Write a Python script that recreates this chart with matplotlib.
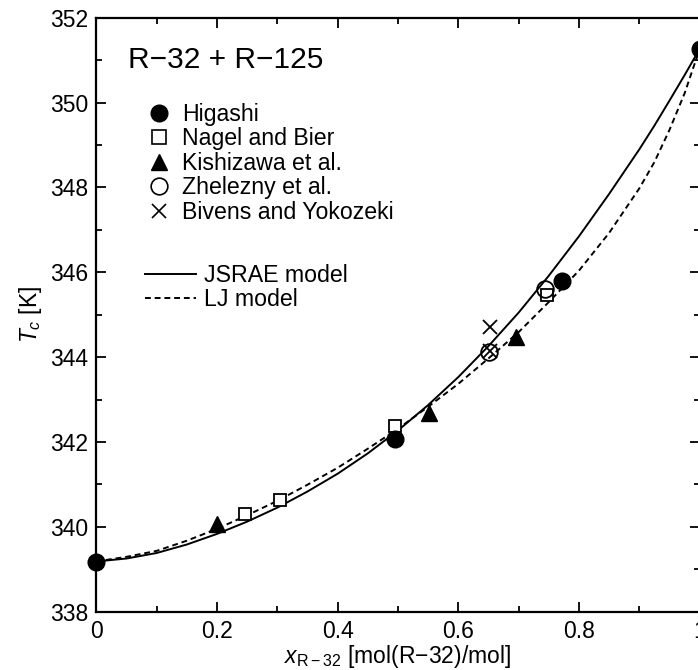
import matplotlib
matplotlib.use("Agg")
import matplotlib.pyplot as plt
from matplotlib.ticker import MultipleLocator
from matplotlib.lines import Line2D

plt.rcParams['font.family'] = ['Liberation Sans', 'DejaVu Sans']
plt.rcParams['mathtext.fontset'] = 'custom'
plt.rcParams['mathtext.rm'] = 'Liberation Sans'
plt.rcParams['mathtext.it'] = 'Liberation Sans:italic'

# 实验数据
higashi_x = [0.0, 0.495, 0.771, 1.0]
higashi_t = [339.17, 342.08, 345.80, 351.27]
nagel_x = [0.247, 0.304, 0.495, 0.747]
nagel_t = [340.29, 340.62, 342.38, 345.46]
kishi_x = [0.200, 0.552, 0.695]
kishi_t = [340.06, 342.67, 344.48]
zhel_x = [0.651, 0.743]
zhel_t = [344.12, 345.60]
bivens_x = [0.653, 0.653]
bivens_t = [344.70, 344.15]

# 模型曲线
model_x = [0.00, 0.05, 0.10, 0.15, 0.20, 0.25, 0.30, 0.35, 0.40, 0.45, 0.50,
           0.55, 0.60, 0.65, 0.70, 0.75, 0.80, 0.85, 0.90, 0.925, 0.95, 0.975, 1.00]
jsrae_t = [339.18, 339.25, 339.38, 339.58, 339.83, 340.12, 340.45, 340.83, 341.25, 341.73, 342.27,
           342.87, 343.53, 344.26, 345.05, 345.92, 346.85, 347.85, 348.90, 349.46, 350.05, 350.65, 351.27]
lj_t = [339.18, 339.29, 339.43, 339.67, 339.95, 340.27, 340.61, 340.99, 341.39, 341.84, 342.31,
        342.83, 343.37, 343.97, 344.59, 345.30, 346.04, 346.93, 347.98, 348.60, 349.36, 350.22, 351.27]

fig = plt.figure(figsize=(6.98, 6.70), dpi=100)
ax = fig.add_axes([0.138, 0.0873, 0.8644, 0.886])

ax.plot(model_x, jsrae_t, color='black', lw=1.4, label='JSRAE model')
ax.plot(model_x, lj_t, color='black', lw=1.4, ls=(0, (3, 2)), label='LJ model')

ax.plot(nagel_x, nagel_t, ls='none', marker='s', ms=9, mfc='white', mec='black', mew=1.3)
ax.plot(zhel_x, zhel_t, ls='none', marker='o', ms=12, mfc='none', mec='black', mew=1.3)
ax.plot(bivens_x, bivens_t, ls='none', marker='x', ms=10, mec='black', mew=1.3)
ax.plot(kishi_x, kishi_t, ls='none', marker='^', ms=11.5, color='black')
ax.plot(higashi_x, higashi_t, ls='none', marker='o', ms=12, color='black', clip_on=False, zorder=5)

ax.set_xlim(0, 1)
ax.set_ylim(338, 352)
ax.xaxis.set_minor_locator(MultipleLocator(0.1))
ax.yaxis.set_major_locator(MultipleLocator(2))
ax.yaxis.set_minor_locator(MultipleLocator(1))
ax.set_xticks([0, 0.2, 0.4, 0.6, 0.8, 1.0])
ax.set_xticklabels(['0', '0.2', '0.4', '0.6', '0.8', '1'])
ax.tick_params(which='both', direction='in', top=True, right=True, labelsize=16.5, width=1.3)
ax.tick_params(which='major', length=7, pad=6)
ax.tick_params(which='minor', length=4)
for s in ax.spines.values():
    s.set_linewidth(1.6)

ax.set_xlabel(r'$x_{\mathrm{R-32}}$ [mol(R$-$32)/mol]', fontsize=16.5, labelpad=0)
ax.set_ylabel(r'$T_c$ [K]', fontsize=16.5, labelpad=4)

ax.text(0.0525, 0.9156, 'R\u221232 + R\u2212125', transform=ax.transAxes,
        fontsize=21.5, va='baseline', ha='left')

h1 = [
    Line2D([], [], ls='none', marker='o', ms=12, color='black'),
    Line2D([], [], ls='none', marker='s', ms=10, mfc='white', mec='black', mew=1.2),
    Line2D([], [], ls='none', marker='^', ms=12, color='black'),
    Line2D([], [], ls='none', marker='o', ms=12, mfc='none', mec='black', mew=1.2),
    Line2D([], [], ls='none', marker='x', ms=9.5, mec='black', mew=1.2),
]
l1 = ['Higashi', 'Nagel and Bier', 'Kishizawa et al.', 'Zhelezny et al.', 'Bivens and Yokozeki']
leg1 = ax.legend(h1, l1, loc='upper left', bbox_to_anchor=(0.0857, 0.857), frameon=False,
                 fontsize=16.7, borderpad=0, borderaxespad=0, handlelength=0.96,
                 handletextpad=0.5, labelspacing=0.065)
ax.add_artist(leg1)

h2 = [Line2D([], [], color='black', lw=1.4),
      Line2D([], [], color='black', lw=1.4, ls=(0, (3, 2)))]
ax.legend(h2, ['JSRAE model', 'LJ model'], loc='upper left', bbox_to_anchor=(0.081, 0.5857),
          frameon=False, fontsize=16.7, borderpad=0, borderaxespad=0, handlelength=2.2,
          handletextpad=0.34, labelspacing=0.065)

fig.savefig('out.png', dpi=100)
